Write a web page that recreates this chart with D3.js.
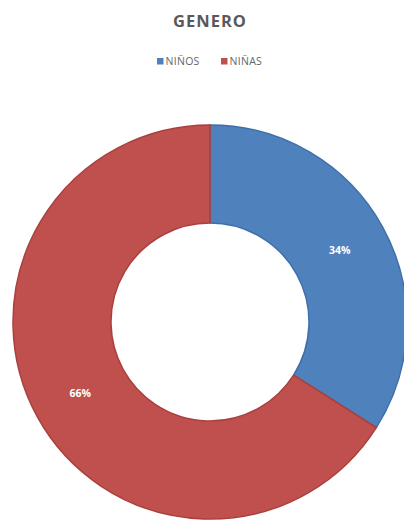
<!DOCTYPE html>
<html>
<head>
<meta charset="utf-8">
<script src="https://cdn.jsdelivr.net/npm/d3@7"></script>
<style>
  html, body { margin: 0; padding: 0; background: #fff; }
  svg { display: block; }
</style>
</head>
<body>
<svg id="chart" width="404" height="520"></svg>
<script>
// Gender split
const categories = ["NIÑOS", "NIÑAS"];
const values = [34, 66];
const colors = ["#4F81BD", "#C0504D"];
const strokes = ["#3f6fa8", "#a9403d"];
const title = "GENERO";

const svg = d3.select("#chart");
const cx = 210, cy = 322, outerR = 197, innerR = 99;

const data = categories.map((c, i) => ({ name: c, value: values[i], i }));
const total = d3.sum(values);

// Title
svg.append("text")
  .attr("x", 210)
  .attr("y", 27)
  .attr("text-anchor", "middle")
  .attr("font-family", "Open Sans, sans-serif")
  .attr("font-weight", "bold")
  .attr("font-size", 16.5)
  .attr("letter-spacing", 1)
  .attr("fill", "#595959")
  .text(title);

// Legend
const legend = svg.append("g").attr("transform", "translate(157,58)");
const itemStep = 64;
data.forEach((d, k) => {
  const g = legend.append("g").attr("transform", `translate(${k * itemStep},0)`);
  g.append("rect").attr("width", 6.5).attr("height", 6.5).attr("fill", colors[d.i]);
  g.append("text")
    .attr("x", 8.5).attr("y", 7.2)
    .attr("font-family", "Open Sans, sans-serif")
    .attr("font-size", 10.5)
    .attr("letter-spacing", 0.3)
    .attr("fill", "#666666")
    .text(d.name);
});

// Donut
const pie = d3.pie().value(d => d.value).sort(null);
const arc = d3.arc().innerRadius(innerR).outerRadius(outerR);
const labelArc = d3.arc().innerRadius((innerR + outerR) / 2).outerRadius((innerR + outerR) / 2);

const g = svg.append("g").attr("transform", `translate(${cx},${cy})`);
const arcs = pie(data);

g.selectAll("path.slice")
  .data(arcs)
  .join("path")
  .attr("class", "slice")
  .attr("d", arc)
  .attr("fill", d => colors[d.data.i])
  .attr("stroke", d => strokes[d.data.i])
  .attr("stroke-width", 1.5);

g.selectAll("text.pct")
  .data(arcs)
  .join("text")
  .attr("class", "pct")
  .attr("transform", d => `translate(${labelArc.centroid(d)})`)
  .attr("text-anchor", "middle")
  .attr("dy", "0.35em")
  .attr("font-family", "Open Sans, sans-serif")
  .attr("font-weight", "bold")
  .attr("font-size", 10.5)
  .attr("fill", "#ffffff")
  .text(d => Math.round(d.data.value / total * 100) + "%");
</script>
</body>
</html>
